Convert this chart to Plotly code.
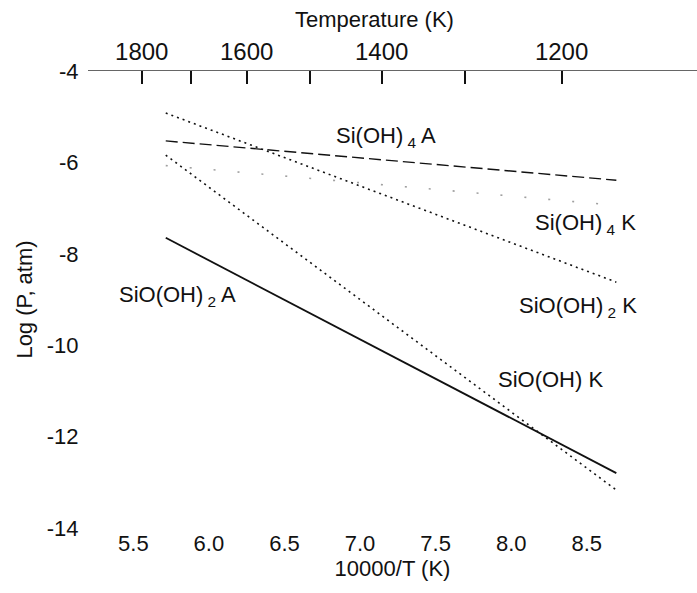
import plotly.graph_objects as go

# Data
temps_K = [1750, 1150]                      # line end temperatures
si_oh4_A = [-5.53, -6.39]                   # dashed
si_oh4_K = [-6.07, -6.94]                   # faint sparse dots
sio_oh2_K = [-4.92, -8.62]                  # dotted
sio_oh2_A = [-7.65, -12.80]                 # solid
sio_oh_K = [-5.84, -13.17]                  # dotted

x_ticks = [5.5, 6.0, 6.5, 7.0, 7.5, 8.0, 8.5]
y_ticks = [-4, -6, -8, -10, -12, -14]
top_temps = [1800, 1700, 1600, 1500, 1400, 1300, 1200]
top_labels = ["1800", "", "1600", "", "1400", "", "1200"]

x_vals = [10000.0 / t for t in temps_K]
top_vals = [10000.0 / t for t in top_temps]

FONT = "Liberation Sans, Arial, Helvetica, sans-serif"
INK = "#111111"
FS = 22

fig = go.Figure()

def add(y, dash, width=1.6, color=INK):
    fig.add_trace(go.Scatter(x=x_vals, y=y, mode="lines",
                             line=dict(color=color, width=width, dash=dash),
                             showlegend=False, hoverinfo="skip"))

add(si_oh4_A, "12px,5px", 1.4)
add(si_oh4_K, "2px,22px", 1.6, "#a0a0a0")
add(sio_oh2_K, "2px,4px", 1.6)
add(sio_oh2_A, "solid", 1.8)
add(sio_oh_K, "2px,4px", 1.6)

# invisible trace on top axis so it renders
fig.add_trace(go.Scatter(x=[top_vals[0]], y=[-20], xaxis="x2", mode="markers",
                         marker=dict(opacity=0), showlegend=False, hoverinfo="skip"))

labels = [
    ("Si(OH)<sub> 4</sub> A", 7.17, -5.45),
    ("Si(OH)<sub> 4</sub> K", 8.49, -7.35),
    ("SiO(OH)<sub> 2</sub> K", 8.44, -9.17),
    ("SiO(OH) K", 8.26, -10.76),
    ("SiO(OH)<sub> 2</sub> A", 5.79, -8.93),
]
for txt, x, y in labels:
    fig.add_annotation(x=x, y=y, text=txt, showarrow=False,
                       font=dict(family=FONT, size=FS, color=INK),
                       xanchor="center", yanchor="middle")

# top axis title
fig.add_annotation(xref="paper", yref="paper", x=0.471, y=1.112,
                   text="Temperature (K)", showarrow=False,
                   font=dict(family=FONT, size=FS, color=INK),
                   xanchor="center", yanchor="middle")

xr = [5.5 - 49 / 163.3, 5.5 + 609 / 163.3]

fig.update_layout(
    width=697, height=593,
    margin=dict(l=88, r=0, t=71, b=65),
    paper_bgcolor="white", plot_bgcolor="white",
    font=dict(family=FONT, size=FS, color=INK),
    xaxis=dict(range=xr, tickvals=x_ticks, ticktext=[f"{v:.1f}" for v in x_ticks],
               showgrid=False, zeroline=False, showline=False, ticks="",
               tickfont=dict(size=FS),
               title=dict(text="10000/T (K)", font=dict(size=FS), standoff=4)),
    xaxis2=dict(range=xr, overlaying="x", side="top", tickvals=top_vals,
                ticktext=top_labels, showgrid=False, zeroline=False,
                showline=True, linecolor="#666666", linewidth=1.2,
                ticks="inside", ticklen=13, tickwidth=1.8, tickcolor=INK,
                tickfont=dict(size=24)),
    yaxis=dict(range=[-14, -4], tickvals=y_ticks,
               ticktext=[str(v) for v in y_ticks],
               showgrid=False, zeroline=False,
               showline=False, ticks="outside", ticklen=4, tickcolor="white",
               tickfont=dict(size=FS),
               title=dict(text="Log (P, atm)", font=dict(size=FS), standoff=8)),
)

fig.write_html("out.html")
